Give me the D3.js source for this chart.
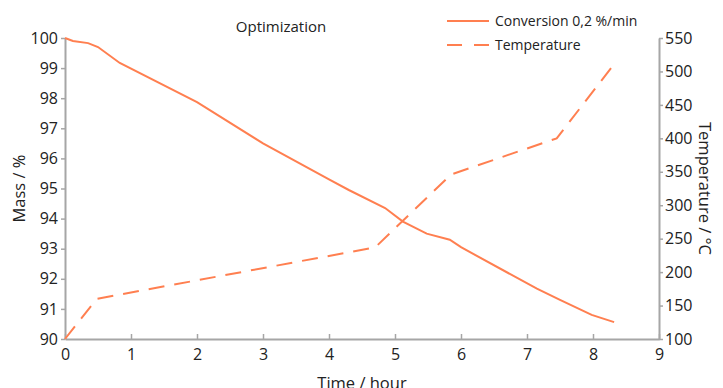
<!DOCTYPE html>
<html>
<head>
<meta charset="utf-8">
<script src="https://cdn.jsdelivr.net/npm/d3@7"></script>
<style>
  body { margin: 0; background: #fff; }
  svg text { font-family: "Open Sans", "Noto Sans", sans-serif; fill: #222; }
</style>
</head>
<body>
<script>
// data
const massTime = [0, 0.12, 0.35, 0.5, 0.83, 2, 3, 4, 4.3, 4.85, 5.12, 5.48, 5.83, 6, 7.15, 7.5, 7.98, 8.32];
const massValues = [100, 99.9, 99.83, 99.7, 99.17, 97.87, 96.5, 95.3, 94.95, 94.35, 93.9, 93.5, 93.3, 93.05, 91.67, 91.3, 90.8, 90.56];
const tempTime = [0, 0.48, 4.7, 5.85, 7.45, 8.32];
const tempValues = [100, 160, 237, 346, 400, 511];
const xTicks = [0, 1, 2, 3, 4, 5, 6, 7, 8, 9];
const massTicks = [90, 91, 92, 93, 94, 95, 96, 97, 98, 99, 100];
const tempTicks = [100, 150, 200, 250, 300, 350, 400, 450, 500, 550];

const W = 723, H = 388;
const mLeft = 65, mRight = 659, mTop = 38, mBottom = 339;
const color = "#ff7f50";
const axisColor = "#a6a6a6";

const svg = d3.select(document.body).append("svg")
    .attr("width", W)
    .attr("height", H);

const x = d3.scaleLinear().domain([0, 9]).range([mLeft, mRight]);
const yMass = d3.scaleLinear().domain([90, 100]).range([mBottom, mTop]);
const yTemp = d3.scaleLinear().domain([100, 550]).range([mBottom, mTop]);

const styleAxis = g => {
    g.select(".domain").attr("stroke", axisColor).attr("stroke-width", 2);
    g.selectAll(".tick line").attr("stroke", axisColor).attr("stroke-width", 1.5);
    g.selectAll(".tick text").style("font-size", "16px").attr("fill", "#222");
};

svg.append("g")
    .attr("transform", `translate(0,${mBottom})`)
    .call(d3.axisBottom(x).tickValues(xTicks).tickSize(-5).tickSizeOuter(0).tickPadding(10))
    .call(styleAxis);

svg.append("g")
    .attr("transform", `translate(${mLeft},0)`)
    .call(d3.axisLeft(yMass).tickValues(massTicks).tickSize(4).tickSizeOuter(0).tickPadding(3))
    .call(styleAxis);

svg.append("g")
    .attr("transform", `translate(${mRight},0)`)
    .call(d3.axisRight(yTemp).tickValues(tempTicks).tickSize(4).tickSizeOuter(0).tickPadding(2))
    .call(styleAxis);

// lines
const massLine = d3.line().x(d => x(d[0])).y(d => yMass(d[1]));
const tempLine = d3.line().x(d => x(d[0])).y(d => yTemp(d[1]));

svg.append("path")
    .datum(d3.zip(massTime, massValues))
    .attr("d", massLine)
    .attr("fill", "none")
    .attr("stroke", color)
    .attr("stroke-width", 2);

svg.append("path")
    .datum(d3.zip(tempTime, tempValues))
    .attr("d", tempLine)
    .attr("fill", "none")
    .attr("stroke", color)
    .attr("stroke-width", 2)
    .attr("stroke-dasharray", "16,10");

// titles
svg.append("text")
    .attr("x", 281).attr("y", 32)
    .attr("text-anchor", "middle")
    .style("font-size", "15px")
    .text("Optimization");

svg.append("text")
    .attr("transform", `translate(25,${(mTop + mBottom) / 2}) rotate(-90)`)
    .attr("text-anchor", "middle")
    .style("font-size", "16.5px")
    .text("Mass / %");

svg.append("text")
    .attr("transform", `translate(699,${(mTop + mBottom) / 2}) rotate(90)`)
    .attr("text-anchor", "middle")
    .style("font-size", "16.5px")
    .text("Temperature / °C");

svg.append("text")
    .attr("x", 362).attr("y", 389)
    .attr("text-anchor", "middle")
    .style("font-size", "16.5px")
    .text("Time / hour");

// legend
const legend = [
    { label: "Conversion 0,2 %/min", dash: null },
    { label: "Temperature", dash: "15,12" }
];
legend.forEach((d, i) => {
    const ly = 21 + i * 24;
    svg.append("line")
        .attr("x1", 447).attr("x2", 489)
        .attr("y1", ly).attr("y2", ly)
        .attr("stroke", color)
        .attr("stroke-width", 2)
        .attr("stroke-dasharray", d.dash);
    svg.append("text")
        .attr("x", 495).attr("y", ly + 5)
        .style("font-size", "14px")
        .text(d.label);
});
</script>
</body>
</html>
